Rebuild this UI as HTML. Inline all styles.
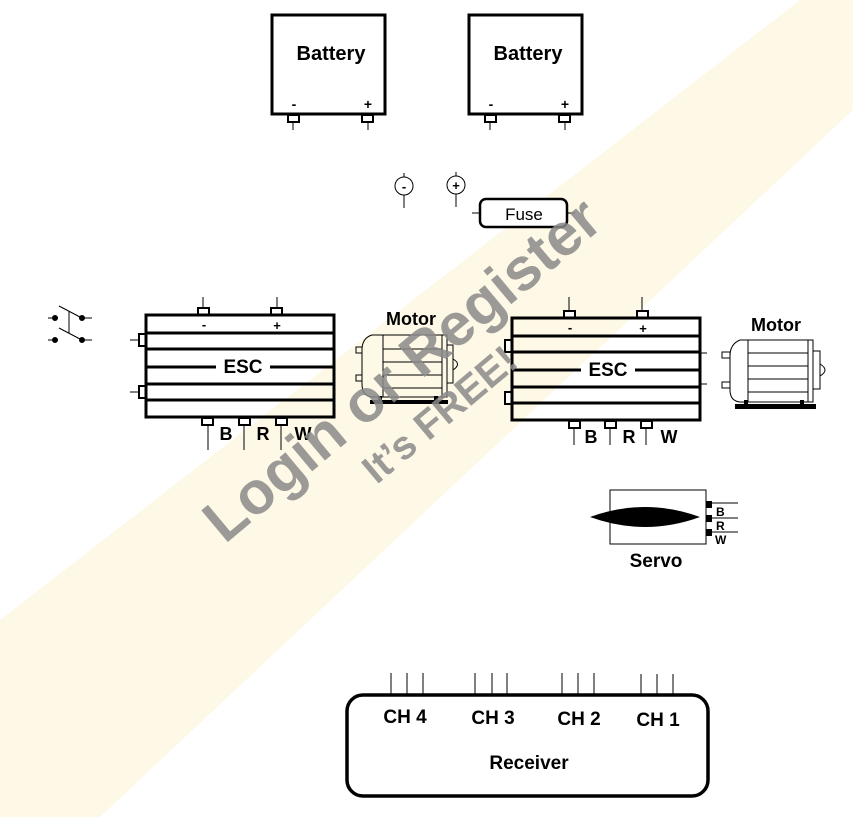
<!DOCTYPE html>
<html><head><meta charset="utf-8"><style>
html,body{margin:0;padding:0;background:#fff;}
svg{display:block;}
svg text{font-family:"Liberation Sans",Arial,sans-serif;font-weight:700 !important;}
svg text.n{font-weight:400 !important;}
</style></head><body>
<svg width="853" height="817" viewBox="0 0 853 817" xmlns="http://www.w3.org/2000/svg" font-family="Liberation Sans, Arial, sans-serif" font-weight="bold">
<rect width="853" height="817" fill="#fff"/>
<polygon points="0,620 800,0 853,0 853,110 100,817 0,817" fill="#fdf2d2" opacity="0.55"/>

<g fill="none" stroke="#000" stroke-width="3">
<rect x="272" y="15" width="113" height="99"/>
<rect x="469" y="15" width="113" height="99"/>
</g>
<g fill="#fff" stroke="#000" stroke-width="2">
<rect x="288" y="115" width="11" height="7"/><rect x="362" y="115" width="11" height="7"/>
<rect x="485" y="115" width="11" height="7"/><rect x="559" y="115" width="11" height="7"/>
</g>
<g stroke="#000" stroke-width="1">
<line x1="293" y1="122" x2="293" y2="130"/><line x1="368" y1="122" x2="368" y2="130"/>
<line x1="490" y1="122" x2="490" y2="130"/><line x1="565" y1="122" x2="565" y2="130"/>
</g>
<text x="331" y="60" font-size="20" font-weight="bold" text-anchor="middle">Battery</text>
<text x="528" y="60" font-size="20" font-weight="bold" text-anchor="middle">Battery</text>
<text x="294" y="109" font-size="14" font-weight="bold" text-anchor="middle">-</text>
<text x="368" y="109" font-size="14" font-weight="bold" text-anchor="middle">+</text>
<text x="491" y="109" font-size="14" font-weight="bold" text-anchor="middle">-</text>
<text x="565" y="109" font-size="14" font-weight="bold" text-anchor="middle">+</text>

<g stroke="#000" stroke-width="1" fill="none">
<circle cx="404" cy="186" r="9"/><line x1="404" y1="173" x2="404" y2="177"/><line x1="404" y1="195" x2="404" y2="208"/>
<circle cx="456" cy="185" r="9"/><line x1="456" y1="172" x2="456" y2="176"/><line x1="456" y1="194" x2="456" y2="207"/>
<line x1="472" y1="213" x2="479" y2="213"/><line x1="567" y1="213" x2="575" y2="213"/>
</g>
<text x="404" y="191" font-size="13" font-weight="bold" text-anchor="middle">-</text>
<text x="456" y="190" font-size="13" font-weight="bold" text-anchor="middle">+</text>
<rect x="480" y="199" width="87" height="28" rx="6" fill="#fff" stroke="#000" stroke-width="2.5"/>
<text class="n" x="524" y="220" font-size="17" font-weight="normal" text-anchor="middle">Fuse</text>

<g stroke="#000" stroke-width="1" fill="#000">
<line x1="48" y1="318" x2="58" y2="318"/><line x1="80" y1="318" x2="92" y2="318"/>
<line x1="48" y1="340" x2="58" y2="340"/><line x1="80" y1="340" x2="92" y2="340"/>
<circle cx="55" cy="318" r="2.5"/><circle cx="82" cy="318" r="2.5"/>
<circle cx="55" cy="340" r="2.5"/><circle cx="82" cy="340" r="2.5"/>
<line x1="59" y1="306" x2="80" y2="317"/><line x1="59" y1="328" x2="80" y2="339"/>
<line x1="69" y1="311" x2="69" y2="333"/>
</g>

<!-- ESC 1 -->
<g stroke="#000" stroke-width="1">
<line x1="203" y1="297" x2="203" y2="308"/><line x1="277" y1="297" x2="277" y2="308"/>
<line x1="130" y1="340" x2="138" y2="340"/><line x1="130" y1="392" x2="138" y2="392"/>
<line x1="208" y1="424" x2="208" y2="450"/><line x1="244" y1="424" x2="244" y2="450"/><line x1="281" y1="424" x2="281" y2="450"/>
</g>
<g fill="#fff" stroke="#000" stroke-width="2">
<rect x="198" y="308" width="11" height="7"/><rect x="271" y="308" width="11" height="7"/>
<rect x="139" y="334" width="7" height="12"/><rect x="139" y="386" width="7" height="12"/>
<rect x="202" y="418" width="11" height="7"/><rect x="239" y="418" width="11" height="7"/><rect x="276" y="418" width="11" height="7"/>
</g>
<rect x="146" y="315" width="188" height="102" fill="none" stroke="#000" stroke-width="3"/>
<g stroke="#000" stroke-width="3">
<line x1="146" y1="333" x2="334" y2="333"/><line x1="146" y1="349" x2="334" y2="349"/>
<line x1="146" y1="367" x2="216" y2="367"/><line x1="270" y1="367" x2="334" y2="367"/>
<line x1="146" y1="384" x2="334" y2="384"/><line x1="146" y1="400" x2="334" y2="400"/>
</g>
<text x="243" y="373" font-size="19" font-weight="bold" text-anchor="middle">ESC</text>
<text x="204" y="329" font-size="13" font-weight="bold" text-anchor="middle">-</text>
<text x="277" y="330" font-size="13" font-weight="bold" text-anchor="middle">+</text>
<text x="226" y="440" font-size="18" font-weight="bold" text-anchor="middle">B</text>
<text x="263" y="440" font-size="18" font-weight="bold" text-anchor="middle">R</text>
<text x="303" y="440" font-size="18" font-weight="bold" text-anchor="middle">W</text>

<text x="411" y="325" font-size="18" font-weight="bold" text-anchor="middle">Motor</text>
<g stroke="#000" stroke-width="1" fill="none">
<path d="M383,335 L372,335 Q362,338 362,350 L362,384 Q362,396 372,397 L383,397"/>
<rect x="383" y="335" width="59" height="62"/>
<line x1="383" y1="349" x2="442" y2="349"/><line x1="383" y1="362" x2="442" y2="362"/>
<line x1="383" y1="375" x2="442" y2="375"/><line x1="383" y1="388" x2="442" y2="388"/>
<rect x="442" y="335" width="5" height="62"/>
<rect x="447" y="345" width="6" height="38"/>
<path d="M453,359 Q462,364 453,370"/>
<rect x="356" y="347" width="6" height="6"/><rect x="356" y="375" width="6" height="6"/>
</g>
<rect x="370" y="400" width="78" height="4" fill="#000"/>
<rect x="378" y="396" width="4" height="5" fill="#000"/><rect x="434" y="396" width="4" height="5" fill="#000"/>

<!-- ESC 2 -->
<g stroke="#000" stroke-width="1">
<line x1="569" y1="297" x2="569" y2="311"/><line x1="642" y1="297" x2="642" y2="311"/>
<line x1="574" y1="427" x2="574" y2="445"/><line x1="610" y1="427" x2="610" y2="445"/><line x1="646" y1="427" x2="646" y2="445"/>
<line x1="700" y1="353" x2="707" y2="353"/><line x1="700" y1="384" x2="707" y2="384"/>
</g>
<g fill="#fff" stroke="#000" stroke-width="2">
<rect x="564" y="311" width="11" height="7"/><rect x="637" y="311" width="11" height="7"/>
<rect x="505" y="340" width="7" height="12"/><rect x="505" y="392" width="7" height="12"/>
<rect x="569" y="421" width="11" height="7"/><rect x="605" y="421" width="11" height="7"/><rect x="641" y="421" width="11" height="7"/>
</g>
<rect x="512" y="318" width="188" height="102" fill="none" stroke="#000" stroke-width="3"/>
<g stroke="#000" stroke-width="3">
<line x1="512" y1="336" x2="700" y2="336"/><line x1="512" y1="352" x2="700" y2="352"/>
<line x1="512" y1="370" x2="581" y2="370"/><line x1="635" y1="370" x2="700" y2="370"/>
<line x1="512" y1="387" x2="700" y2="387"/><line x1="512" y1="403" x2="700" y2="403"/>
</g>
<text x="608" y="376" font-size="19" font-weight="bold" text-anchor="middle">ESC</text>
<text x="570" y="332" font-size="13" font-weight="bold" text-anchor="middle">-</text>
<text x="643" y="333" font-size="13" font-weight="bold" text-anchor="middle">+</text>
<text x="591" y="443" font-size="18" font-weight="bold" text-anchor="middle">B</text>
<text x="629" y="443" font-size="18" font-weight="bold" text-anchor="middle">R</text>
<text x="669" y="443" font-size="18" font-weight="bold" text-anchor="middle">W</text>

<text x="776" y="331" font-size="18" font-weight="bold" text-anchor="middle">Motor</text>
<g stroke="#000" stroke-width="1" fill="none">
<path d="M748,340 L740,340 Q730,344 730,356 L730,390 Q730,401 740,402 L748,402"/>
<rect x="748" y="340" width="60" height="62"/>
<line x1="748" y1="353" x2="808" y2="353"/><line x1="748" y1="366" x2="808" y2="366"/>
<line x1="748" y1="379" x2="808" y2="379"/><line x1="748" y1="392" x2="808" y2="392"/>
<rect x="808" y="340" width="5" height="62"/>
<rect x="813" y="351" width="7" height="38"/>
<path d="M820,364 Q830,370 820,376"/>
<rect x="722" y="352" width="8" height="6"/><rect x="722" y="382" width="8" height="6"/>
</g>
<rect x="735" y="404" width="81" height="5" fill="#000"/>
<rect x="744" y="400" width="4" height="5" fill="#000"/><rect x="800" y="400" width="4" height="5" fill="#000"/>

<!-- Servo -->
<rect x="610" y="490" width="96" height="54" fill="#fff" stroke="#000" stroke-width="1"/>
<path d="M590,517 Q645,497 700,517 Q645,537 590,517 Z" fill="#000"/>
<g fill="#000"><rect x="706" y="501" width="6" height="7"/><rect x="706" y="515" width="6" height="7"/><rect x="706" y="529" width="6" height="7"/></g>
<g stroke="#000" stroke-width="1"><line x1="712" y1="503" x2="738" y2="503"/><line x1="712" y1="518" x2="738" y2="518"/><line x1="712" y1="532" x2="738" y2="532"/></g>
<text x="716" y="516" font-size="12" font-weight="bold">B</text>
<text x="716" y="530" font-size="12" font-weight="bold">R</text>
<text x="715" y="544" font-size="12" font-weight="bold">W</text>
<text x="656" y="567" font-size="19" font-weight="bold" text-anchor="middle">Servo</text>

<!-- Receiver -->
<g stroke="#000" stroke-width="1">
<line x1="391" y1="673" x2="391" y2="694"/><line x1="407" y1="673" x2="407" y2="694"/><line x1="423" y1="673" x2="423" y2="694"/>
<line x1="475" y1="673" x2="475" y2="694"/><line x1="492" y1="673" x2="492" y2="694"/><line x1="507" y1="673" x2="507" y2="694"/>
<line x1="562" y1="673" x2="562" y2="694"/><line x1="578" y1="673" x2="578" y2="694"/><line x1="594" y1="673" x2="594" y2="694"/>
<line x1="641" y1="674" x2="641" y2="694"/><line x1="657" y1="674" x2="657" y2="694"/><line x1="673" y1="674" x2="673" y2="694"/>
</g>
<rect x="347" y="695" width="361" height="101" rx="16" fill="none" stroke="#000" stroke-width="3.5"/>
<text x="405" y="723" font-size="19" font-weight="bold" text-anchor="middle">CH 4</text>
<text x="493" y="724" font-size="19" font-weight="bold" text-anchor="middle">CH 3</text>
<text x="579" y="725" font-size="19" font-weight="bold" text-anchor="middle">CH 2</text>
<text x="658" y="726" font-size="19" font-weight="bold" text-anchor="middle">CH 1</text>
<text x="529" y="769" font-size="19" font-weight="bold" text-anchor="middle">Receiver</text>

<g transform="translate(415,385) rotate(-40)" fill="#8a8a8a" opacity="0.85">
<text x="0" y="0" font-size="60" font-weight="bold" text-anchor="middle">Login or Register</text>
<text x="0" y="52" font-size="40" font-weight="bold" text-anchor="middle">It’s FREE!</text>
</g>
</svg>
</body></html>
